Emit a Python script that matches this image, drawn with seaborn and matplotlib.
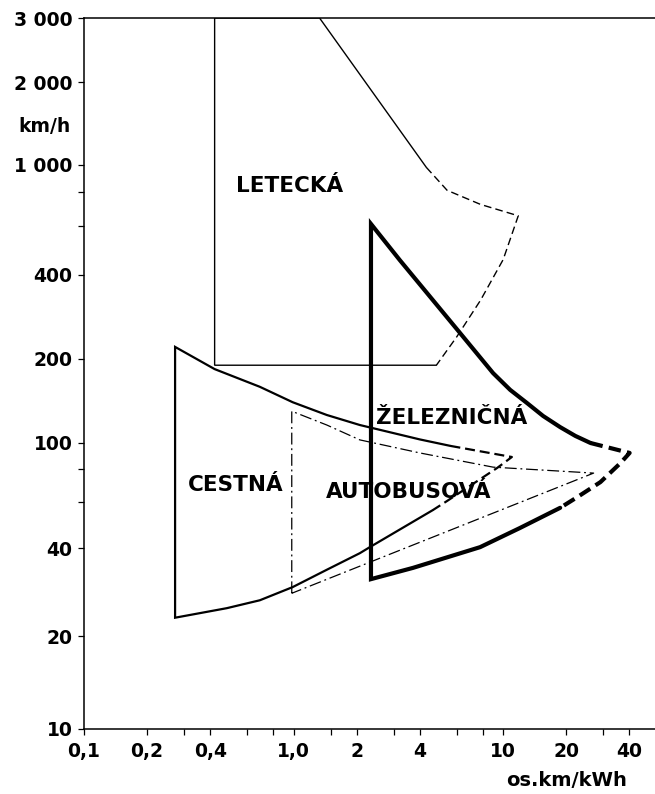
# Speed vs. energy efficiency of transport modes (log-log outline chart)

import numpy as np
import matplotlib
matplotlib.use('Agg')
import matplotlib.pyplot as plt
import seaborn as sns
from matplotlib.ticker import FixedLocator, FixedFormatter, NullFormatter

# axis ticks
x_major = [0.1, 0.2, 0.4, 1.0, 2, 4, 10, 20, 40]
x_major_labels = ['0,1', '0,2', '0,4', '1,0', '2', '4', '10', '20', '40']
x_minor = [0.3, 0.6, 0.8, 1.5, 3, 6, 8, 30]
y_major = [10, 20, 40, 100, 200, 400, 1000, 2000, 3000]
y_major_labels = ['10', '20', '40', '100', '200', '400', '1 000', '2 000', '3 000']
y_minor = [60, 80, 600, 800]

# the speed axis in the original is only roughly logarithmic:
# height of each labelled tick above the 10 km/h line (out of 711)
y_knots = [10, 20, 40, 100, 200, 400, 1000, 2000, 3000]
y_knot_height = [0, 93, 181, 286, 370, 454, 564, 647, 711]

# LETECKA (air) - thin outline, solid part + dashed part
air_solid_x = [4.3, 1.33, 0.42, 0.42, 4.8]
air_solid_y = [980, 3000, 3000, 190, 190]
air_dash_x = [4.3, 5.4, 7.8, 11.8, 10.0, 7.8, 6.0, 4.8]
air_dash_y = [980, 810, 720, 655, 455, 325, 240, 190]

# CESTNA (road)
road_solid_x = [5.6, 4.0, 2.07, 1.44, 0.99, 0.69, 0.42, 0.272,
                0.272, 0.48, 0.69, 0.99, 1.44, 2.07, 2.31, 4.62]
road_solid_y = [97.5, 103, 116, 126, 140, 159, 184, 221,
                23.1, 24.9, 26.5, 29.4, 33.7, 38.4, 40.3, 55.7]
road_dash_x = [5.6, 11.0, 9.35, 5.4, 4.62]
road_dash_y = [97.5, 88.5, 80.4, 60.3, 55.7]

# AUTOBUSOVA (bus) - dash-dot outline
bus_x = [0.98, 0.98, 1.44, 2.07, 4.0, 8.95, 27.0, 0.98]
bus_y = [28.0, 130, 116, 102.6, 91.7, 81, 76.9, 28.0]

# ZELEZNICNA (rail) - thick outline
rail_solid_x = [26.1, 22.1, 18.7, 15.5, 13.0, 10.8, 8.95, 6.22, 4.62, 3.21, 2.34,
                2.34, 3.71, 7.76, 12.0, 18.7]
rail_solid_y = [100, 106, 114, 125, 139, 155, 178, 248, 325, 453, 612,
                31.3, 34.2, 40.3, 47.6, 56.8]
rail_dash_x = [26.1, 40.1, 36.3, 29.1, 22.6, 18.7]
rail_dash_y = [100, 91.7, 84, 71.1, 62.4, 56.8]

# area labels
labels = ['LETECKÁ', 'CESTNÁ', 'AUTOBUSOVÁ', 'ŽELEZNIČNÁ']
label_x = [0.957, 0.531, 3.53, 5.70]
label_y = [800, 65.8, 61.8, 117]

sns.set_style('ticks')
plt.rcParams['font.family'] = ['DejaVu Sans']
plt.rcParams['font.weight'] = 'bold'
plt.rcParams['text.color'] = 'black'

fig = plt.figure(figsize=(6.55, 7.94), dpi=100)
ax = fig.add_axes([84 / 655, 65 / 794, 571 / 655, 711 / 794])

# custom speed scale built from the tick heights
lk = np.log10(y_knots)
pk = np.array(y_knot_height) / 711
lk_ext = np.r_[lk[0] - 2, lk, lk[-1] + 2]
pk_ext = np.r_[pk[0] - 2 * (pk[1] - pk[0]) / (lk[1] - lk[0]), pk,
               pk[-1] + 2 * (pk[-1] - pk[-2]) / (lk[-1] - lk[-2])]


def fwd(v):
    v = np.asarray(v, dtype=float)
    return np.interp(np.log10(np.clip(v, 1e-6, None)), lk_ext, pk_ext)


def inv(p):
    return 10 ** np.interp(np.asarray(p, dtype=float), pk_ext, lk_ext)


ax.set_xscale('log')
ax.set_yscale('function', functions=(fwd, inv))
ax.set_xlim(0.1, 53)
ax.set_ylim(10, 3000)


def outline(x, y, lw, ls):
    sns.lineplot(x=x, y=y, sort=False, estimator=None, color='black',
                 linewidth=lw, linestyle=ls, ax=ax, legend=False,
                 solid_joinstyle='miter')


outline(air_solid_x, air_solid_y, 1.0, '-')
outline(air_dash_x, air_dash_y, 1.0, (0, (5.5, 3)))
outline(road_solid_x, road_solid_y, 1.6, '-')
outline(road_dash_x, road_dash_y, 1.6, (0, (4.5, 2.2)))
outline(bus_x, bus_y, 0.9, (0, (9.5, 3, 1.5, 3)))
outline(rail_solid_x, rail_solid_y, 3.0, '-')
outline(rail_dash_x, rail_dash_y, 3.0, (0, (3, 1.5)))

for txt, lx, ly in zip(labels, label_x, label_y):
    ax.text(lx, ly, txt, ha='center', va='baseline', fontsize=15.5,
            fontweight='bold', color='black')

# ticks
ax.xaxis.set_major_locator(FixedLocator(x_major))
ax.xaxis.set_major_formatter(FixedFormatter(x_major_labels))
ax.xaxis.set_minor_locator(FixedLocator(x_minor))
ax.xaxis.set_minor_formatter(NullFormatter())
ax.yaxis.set_major_locator(FixedLocator(y_major))
ax.yaxis.set_major_formatter(FixedFormatter(y_major_labels))
ax.yaxis.set_minor_locator(FixedLocator(y_minor))
ax.yaxis.set_minor_formatter(NullFormatter())
ax.tick_params(which='both', direction='out', length=4.3, width=0.9,
               colors='black', labelsize=13.5)
ax.tick_params(axis='x', which='major', pad=5)
ax.tick_params(axis='y', which='major', pad=4)
for t in ax.get_xticklabels() + ax.get_yticklabels():
    t.set_fontweight('bold')

ax.set_xlabel('')
ax.set_ylabel('')
ax.spines['right'].set_visible(False)
for s in ['left', 'bottom', 'top']:
    ax.spines[s].set_linewidth(1.1)
    ax.spines[s].set_color('black')
ax.grid(False)

fig.text(45 / 655, 1 - 127 / 794, 'km/h', ha='center', va='center',
         fontsize=13.5, fontweight='bold', color='black')
fig.text(567 / 655, 1 - 780 / 794, 'os.km/kWh', ha='center', va='center',
         fontsize=14, fontweight='bold', color='black')

fig.savefig('out.png', dpi=100)
plt.close(fig)
